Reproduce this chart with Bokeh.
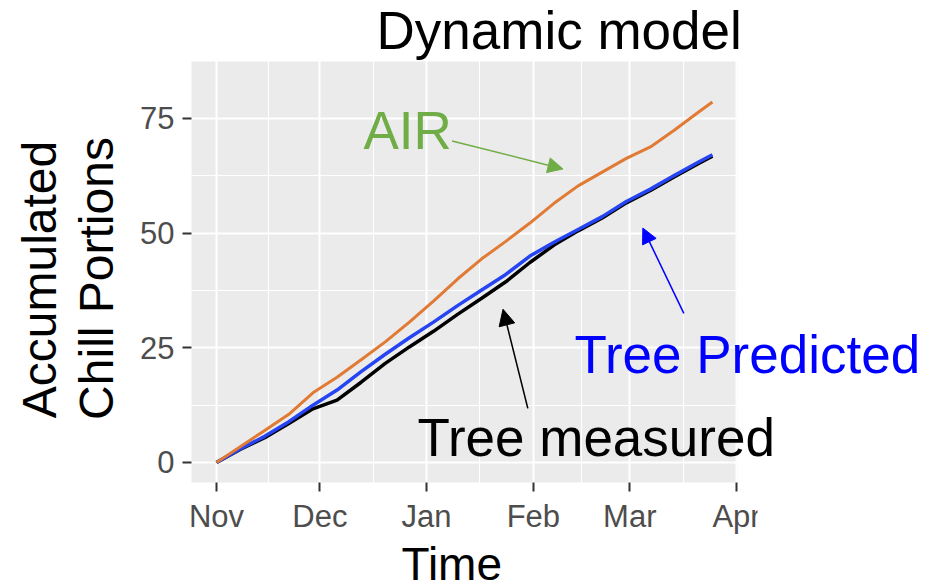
import numpy as np
import pandas as pd
from bokeh.plotting import figure
from bokeh.models import (ColumnDataSource, Range1d, FixedTicker, BoxAnnotation,
                          DatetimeTickFormatter, Label, Arrow, NormalHead)
from bokeh.embed import file_html
from bokeh.resources import INLINE

# Accumulated chill portions (Dynamic model), weekly readings
dates = ["2017-11-01", "2017-11-08", "2017-11-15", "2017-11-22", "2017-11-29",
         "2017-12-06", "2017-12-13", "2017-12-20", "2017-12-27", "2018-01-03",
         "2018-01-10", "2018-01-17", "2018-01-24", "2018-01-31", "2018-02-07",
         "2018-02-14", "2018-02-21", "2018-02-28", "2018-03-07", "2018-03-14",
         "2018-03-21", "2018-03-25"]
air = [0, 3.5, 7.0, 10.5, 15.2, 18.6, 22.4, 26.3, 30.6, 35.2, 40.0, 44.4,
       48.2, 52.2, 56.5, 60.3, 63.3, 66.3, 68.8, 72.5, 76.4, 78.6]
tree_predicted = [0, 3.0, 5.7, 8.9, 12.5, 15.8, 19.8, 23.6, 27.2, 30.6, 34.2,
                  37.6, 41.0, 45.0, 48.0, 50.8, 53.6, 56.9, 59.6, 62.6, 65.5, 67.1]
tree_measured = [0, 2.9, 5.4, 8.5, 11.7, 13.6, 17.5, 21.6, 25.2, 28.6, 32.3,
                 35.8, 39.4, 43.6, 47.4, 50.5, 53.3, 56.6, 59.3, 62.3, 65.2, 66.8]

month_ticks = ["2017-11-01", "2017-12-01", "2018-01-01", "2018-02-01",
               "2018-03-01", "2018-04-01"]
y_ticks = [0, 25, 50, 75]
y_minor = [12.5, 37.5, 62.5]

FONT = "Liberation Sans"
DAY = 86400000.0


def ms(s):
    return pd.Timestamp(s).value / 1e6


t0 = ms(dates[0])


def at_day(d):
    return t0 + d * DAY


src = ColumnDataSource(dict(
    date=pd.to_datetime(dates),
    air=air,
    tree_predicted=tree_predicted,
    tree_measured=tree_measured,
))

major_x = [ms(m) for m in month_ticks]
minor_x = [(a + b) / 2 for a, b in zip(major_x[:-1], major_x[1:])]

# Panel extent (data units); the canvas-wide frame leaves room for the texts
PX_LEFT, PX_RIGHT = at_day(-7.26), at_day(151.3)
PY_BOTTOM, PY_TOP = -4.36, 87.42

p = figure(width=926, height=588, x_axis_type="datetime",
           output_backend="svg", toolbar_location=None,
           x_range=Range1d(at_day(-62.72), at_day(206.16)),
           y_range=Range1d(-27.47, 100.72),
           min_border=0)
p.outline_line_color = None
p.background_fill_color = "white"
p.border_fill_color = "white"

p.add_layout(BoxAnnotation(left=PX_LEFT, right=PX_RIGHT, bottom=PY_BOTTOM, top=PY_TOP,
                           fill_color="#EBEBEB", fill_alpha=1.0, line_color=None,
                           level="image"))

xticker = FixedTicker(ticks=major_x, minor_ticks=minor_x)
yticker = FixedTicker(ticks=y_ticks, minor_ticks=y_minor)
p.xaxis.ticker = xticker
p.yaxis.ticker = yticker
p.xgrid.ticker = xticker
p.ygrid.ticker = yticker
p.xgrid.bounds = (PY_BOTTOM, PY_TOP)
p.ygrid.bounds = (PX_LEFT, PX_RIGHT)
p.xaxis.fixed_location = PY_BOTTOM
p.yaxis.fixed_location = PX_LEFT
p.xaxis.formatter = DatetimeTickFormatter(
    days="%b", months="%b", years="%b", hours="%b", minutes="%b",
    seconds="%b", milliseconds="%b", microseconds="%b", context=None)

for g in (p.xgrid, p.ygrid):
    g.grid_line_color = "white"
    g.grid_line_width = 2
    g.minor_grid_line_color = "white"
    g.minor_grid_line_width = 1

for ax in (p.xaxis, p.yaxis):
    ax.axis_line_color = None
    ax.major_tick_line_color = "#333333"
    ax.major_tick_line_width = 2
    ax.major_tick_out = 9
    ax.major_tick_in = 0
    ax.minor_tick_out = 0
    ax.minor_tick_in = 0
    ax.major_label_text_color = "#4D4D4D"
    ax.major_label_text_font = FONT
    ax.major_label_text_font_size = "31px"
    ax.major_label_standoff = 8

p.line("date", "tree_measured", source=src, color="black", line_width=3.5)
p.line("date", "tree_predicted", source=src, color="#2544F2", line_width=3.5)
p.line("date", "air", source=src, color="#E17A34", line_width=3)


# Texts placed in canvas pixels (origin at the lower-left corner)
def add_label(text, sx, sy, size, color="black", angle=0.0, align="left"):
    p.add_layout(Label(x=sx, y=sy, x_units="screen", y_units="screen",
                       text=text, text_font=FONT, text_font_size=size,
                       text_color=color, angle=angle, text_align=align,
                       text_baseline="alphabetic"))


add_label("Dynamic model", 376, 558, "53px")
add_label("Time", 401, 25, "46px")
add_label("Accumulated", 39, 309, "48px", angle=np.pi / 2, align="center")
add_label("Chill Portions", 96, 310, "48px", angle=np.pi / 2, align="center")
add_label("AIR", 363, 458, "53px", color="#70AD47")
add_label("Tree Predicted", 574, 234, "53px", color="#0000FF")
add_label("Tree measured", 417, 151, "53px")

# The month row ends just after the April tick
p.add_layout(BoxAnnotation(left=757, right=800, bottom=50, top=98,
                           left_units="screen", right_units="screen",
                           bottom_units="screen", top_units="screen",
                           fill_color="white", fill_alpha=1.0, line_color=None,
                           level="overlay"))


# Pointer arrows from the texts to their curves
def add_arrow(d0, y0, d1, y1, color, width, size):
    p.add_layout(Arrow(x_start=at_day(d0), y_start=y0, x_end=at_day(d1), y_end=y1,
                       line_color=color, line_width=width,
                       end=NormalHead(size=size, fill_color=color, line_color=color)))


add_arrow(68.4, 70.1, 100.6, 64.0, "#70AD47", 1.5, 15)
add_arrow(135.7, 32.5, 123.8, 51.1, "#0000FF", 1.5, 15)
add_arrow(90.4, 11.8, 83.2, 33.4, "black", 1.5, 16)

open("out.html", "w").write(file_html(p, INLINE))
